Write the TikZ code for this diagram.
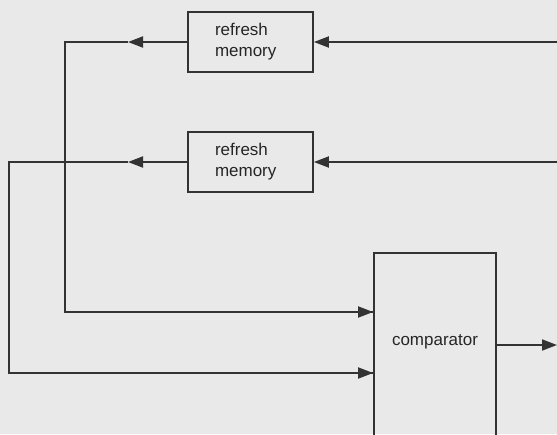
\documentclass[tikz,border=0pt]{standalone}
\usepackage{fontspec}
\setmainfont{Liberation Sans}
\usetikzlibrary{arrows.meta}
\definecolor{ink}{HTML}{333333}
\definecolor{paper}{HTML}{E9E9E9}
\tikzset{
  wire/.style={draw=ink, line width=1.8pt},
  tip/.style={-{Triangle[length=15pt,width=11pt]}},
  membox/.style={draw=ink, line width=1.8pt, minimum width=125pt, minimum height=60pt,
    inner sep=0pt, text width=71pt, align=left, font=\fontsize{17pt}{21pt}\selectfont, text=black!85},
  compbox/.style={draw=ink, line width=1.8pt, minimum width=122pt, minimum height=200pt,
    inner sep=0pt, text depth=26pt, font=\fontsize{17pt}{21pt}\selectfont, text=black!85}
}
\begin{document}
\begin{tikzpicture}[x=1pt,y=-1pt]
\fill[paper] (0,0) rectangle (557,434);
\useasboundingbox (0,0) rectangle (557,434);
\clip (0,0) rectangle (557,434);
\node[membox] (top) at (250.5,42) {refresh\\memory};
\node[membox] (mid) at (250.5,162) {refresh\\memory};
\node[compbox] (comp) at (435,353) {comparator};
% coordinates
\coordinate (inT) at (557,42);
\coordinate (inM) at (557,162);
\coordinate (aT) at (128,42);
\coordinate (aM) at (128,162);
\coordinate (cT) at (65,42);
\coordinate (cM) at (9,162);
\coordinate (out) at (557,345);
% inputs
\draw[wire,tip] (inT) -- (top.east);
\draw[wire,tip] (inM) -- (mid.east);
% outputs of memories (mid-line arrows)
\draw[wire,tip] (top.west) -- (aT);
\draw[wire,tip] (mid.west) -- (aM);
\draw[wire] (aT) -- (cT) |- (comp.west |- 0,312) ;
\draw[wire,tip] (cT |- 0,312) -- (comp.west |- 0,312);
\draw[wire] (aM) -- (cM) |- (comp.west |- 0,373);
\draw[wire,tip] (cM |- 0,373) -- (comp.west |- 0,373);
% comparator output
\draw[wire,tip] (comp.east |- out) -- (out);
\end{tikzpicture}
\end{document}
